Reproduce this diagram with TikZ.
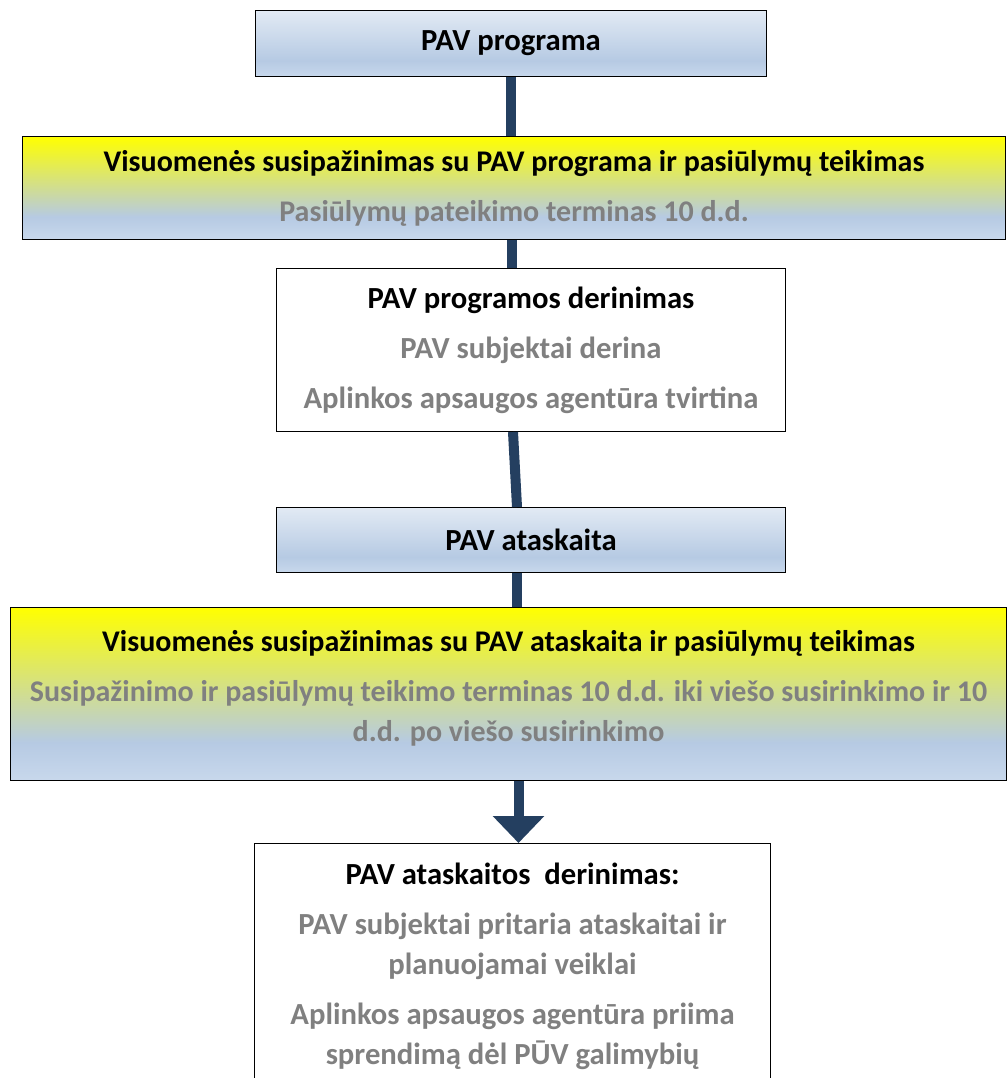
\documentclass[tikz,border=0pt]{standalone}
\usepackage{fontspec}
\setmainfont{Carlito}
\usetikzlibrary{arrows.meta,calc}
\definecolor{navy}{HTML}{243F60}
\definecolor{graytext}{HTML}{808080}
\definecolor{bluelow}{HTML}{C8D8EC}
\definecolor{bluemid}{HTML}{B6CAE3}
\definecolor{bluetop}{HTML}{E2EAF4}
\definecolor{yellowtop}{HTML}{FFFF00}
\pgfdeclareverticalshading{bluebox}{100bp}{color(0bp)=(bluelow); color(25bp)=(bluelow); color(37bp)=(bluemid); color(75bp)=(bluetop); color(100bp)=(bluetop)}
\pgfdeclareverticalshading{yellowbox}{100bp}{color(0bp)=(bluelow); color(25bp)=(bluelow); color(36bp)=(bluemid); color(75bp)=(yellowtop); color(100bp)=(yellowtop)}
\tikzset{
  box/.style={draw=black, line width=0.75pt, anchor=north west, inner sep=0pt, align=center,
    font=\fontsize{23}{30}\selectfont\bfseries},
  widebox/.style={box, shading=yellowbox, font=\fontsize{22.5}{30}\selectfont\bfseries},
  link/.style={navy, line width=7.5pt},
}
\newcommand{\gr}[1]{\textcolor{graytext}{#1}}
\begin{document}
\begin{tikzpicture}[x=0.75pt, y=-0.75pt]
\useasboundingbox (0,0) rectangle (1007,1078);
% Boxes
\node[box, shading=bluebox, minimum width=511*0.75pt, minimum height=66*0.75pt] (prog) at (255,10) {PAV programa};
\node[widebox, minimum width=983*0.75pt, minimum height=103*0.75pt] (vis1) at (22,136)
  {Visuomenės susipažinimas su PAV programa ir pasiūlymų teikimas\\[7.5pt]
   \gr{Pasiūlymų pateikimo terminas 10 d.d.}};
\node[box, fill=white, minimum width=509*0.75pt, minimum height=163*0.75pt] (der) at (276,268)
  {PAV programos derinimas\\[7.5pt]
   \gr{PAV subjektai derina}\\[7.5pt]
   \gr{Aplinkos apsaugos agentūra tvirtina}};
\node[box, shading=bluebox, minimum width=509*0.75pt, minimum height=65*0.75pt] (ats) at (276,507) {PAV ataskaita};
\node[widebox, minimum width=996*0.75pt, minimum height=173*0.75pt] (vis2) at (10,607)
  {Visuomenės susipažinimas su PAV ataskaita ir pasiūlymų teikimas\\[7.5pt]
   \gr{Susipažinimo ir pasiūlymų teikimo terminas 10 d.d. iki viešo susirinkimo ir 10}\\
   \gr{d.d. po viešo susirinkimo}\\[-18pt]\mbox{}};
\node[box, fill=white, minimum width=516*0.75pt, minimum height=260*0.75pt] (res) at (254,843)
  {PAV ataskaitos\ \ derinimas:\\[7.5pt]
   \gr{PAV subjektai pritaria ataskaitai ir}\\
   \gr{planuojamai veiklai}\\[7.5pt]
   \gr{Aplinkos apsaugos agentūra priima}\\
   \gr{sprendimą dėl PŪV galimybių}\\[-15pt]\mbox{}};
% Connectors
\draw[link] (prog.south) -- (prog.south |- vis1.north);
\draw[link] ($(vis1.south -| der.north)+(-19,0)$) -- ($(der.north)+(-19,0)$);
\draw[link] ($(der.south)+(-18,0)$) -- ($(ats.north)+(-14,0)$);
\draw[link] ($(ats.south)+(-14,0)$) -- ($(vis2.north -| ats.south)+(-14,0)$);
\draw[link, -{Triangle[width=37.5pt, length=20.25pt]}] ($(vis2.south -| res.north)+(6,0)$) -- ($(res.north)+(6,0)$);
\end{tikzpicture}
\end{document}
